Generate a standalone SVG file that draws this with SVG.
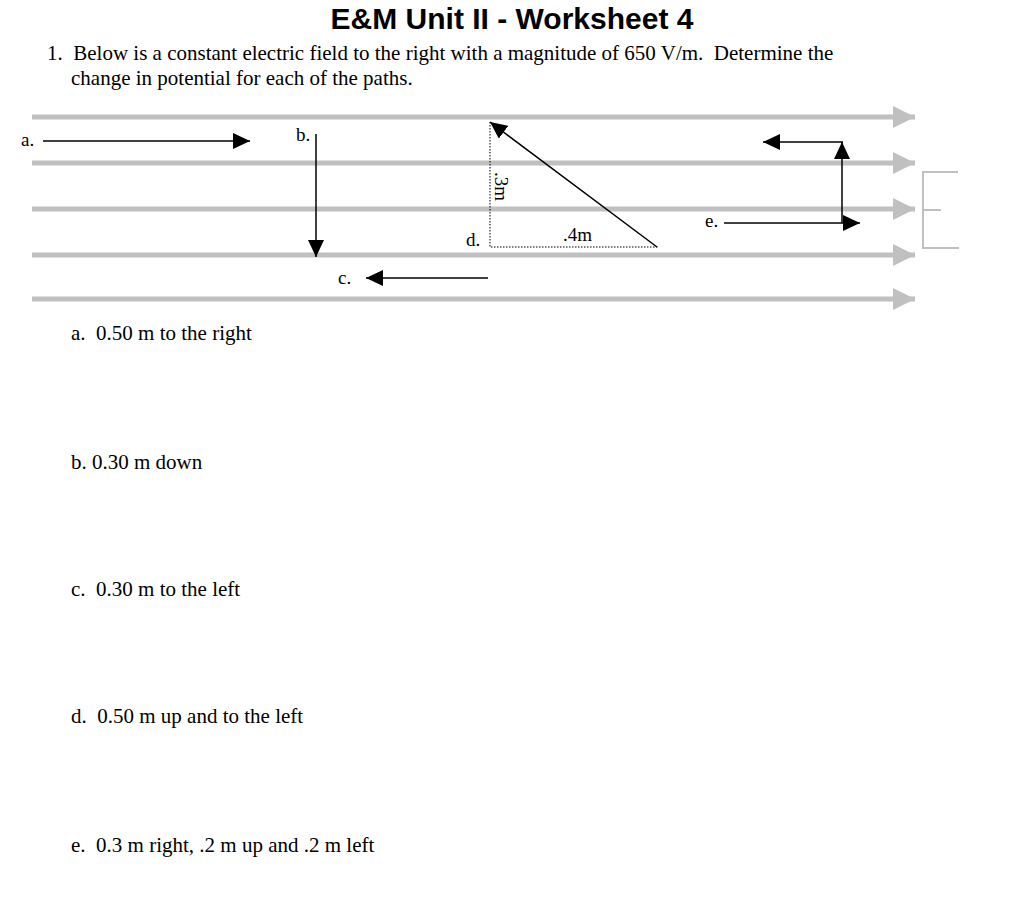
<svg xmlns="http://www.w3.org/2000/svg" width="1024" height="917" viewBox="0 0 1024 917">
<style>
text{white-space:pre}
.t{font-family:"Liberation Serif",serif;font-size:21px;fill:#000}
.s{font-family:"Liberation Serif",serif;font-size:19px;fill:#000}
.f{stroke:#c0c0c0;stroke-width:5}
.k{stroke:#000;stroke-width:1.5;fill:none}
.dot{stroke:#000;stroke-width:1;stroke-dasharray:1.5 1.5;fill:none}
</style>
<defs>
<marker id="ah" viewBox="0 0 10 10" refX="10" refY="5" markerWidth="17" markerHeight="16" markerUnits="userSpaceOnUse" orient="auto" preserveAspectRatio="none"><path d="M0,0L10,5L0,10z" fill="#000"/></marker>
<marker id="ga" viewBox="0 0 10 10" refX="10" refY="5" markerWidth="22" markerHeight="22" markerUnits="userSpaceOnUse" orient="auto"><path d="M0,0L10,5L0,10z" fill="#c0c0c0"/></marker>
</defs>
<rect width="1024" height="917" fill="#fff"/>
<text x="512" y="29" text-anchor="middle" font-family="Liberation Sans,sans-serif" font-weight="bold" font-size="30">E&amp;M Unit II - Worksheet 4</text>
<text class="t" x="47" y="60">1.  Below is a constant electric field to the right with a magnitude of 650 V/m.  Determine the</text>
<text class="t" x="71" y="85">change in potential for each of the paths.</text>
<g id="field">
<line class="f" x1="32" y1="117" x2="915" y2="117" marker-end="url(#ga)"/>
<line class="f" x1="32" y1="163" x2="915" y2="163" marker-end="url(#ga)"/>
<line class="f" x1="32" y1="209" x2="915" y2="209" marker-end="url(#ga)"/>
<line class="f" x1="32" y1="255" x2="915" y2="255" marker-end="url(#ga)"/>
<line class="f" x1="32" y1="299" x2="915" y2="299" marker-end="url(#ga)"/>
<path d="M958,172H923V248H959M923,210H941" stroke="#c0c0c0" stroke-width="2" fill="none"/>
</g>
<g id="connectors">
<line class="k" x1="43" y1="141" x2="250" y2="141" marker-end="url(#ah)"/>
<line class="k" x1="316" y1="134" x2="316" y2="257" marker-end="url(#ah)"/>
<line class="k" x1="488" y1="278" x2="366" y2="278" marker-end="url(#ah)"/>
<line class="k" x1="657" y1="247" x2="490" y2="122" marker-end="url(#ah)"/>
<path class="dot" d="M490,122V247H658"/>
<line class="k" x1="724" y1="223" x2="860" y2="223" marker-end="url(#ah)"/>
<line class="k" x1="842" y1="223" x2="842" y2="142" marker-end="url(#ah)"/>
<line class="k" x1="843" y1="142" x2="763" y2="142" marker-end="url(#ah)"/>
</g>
<g id="labels">
<text class="s" x="21" y="146">a.</text>
<text class="s" x="296" y="141">b.</text>
<text class="s" x="338" y="284">c.</text>
<text class="s" x="466" y="246">d.</text>
<text class="s" x="705" y="227">e.</text>
<text class="s" x="563" y="241" font-size="17">.4m</text>
<text class="s" font-size="17" transform="translate(495,172) rotate(90)">.3m</text>
</g>
<text class="t" x="71" y="340">a.  0.50 m to the right</text>
<text class="t" x="71" y="469">b. 0.30 m down</text>
<text class="t" x="71" y="596">c.  0.30 m to the left</text>
<text class="t" x="71" y="723">d.  0.50 m up and to the left</text>
<text class="t" x="71" y="852">e.  0.3 m right, .2 m up and .2 m left</text>
</svg>
